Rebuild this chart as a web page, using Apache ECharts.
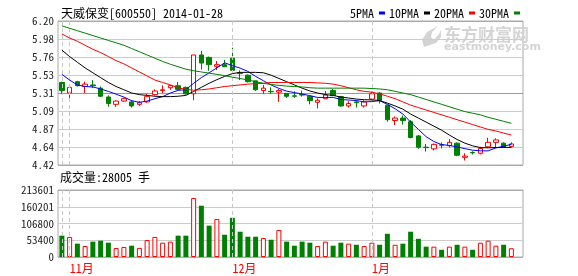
<!DOCTYPE html>
<html>
<head>
<meta charset="utf-8">
<script src="https://cdn.jsdelivr.net/npm/echarts@6/dist/echarts.min.js"></script>
<style>
html,body{margin:0;padding:0;background:#fff;}
#c{width:578px;height:276px;}
</style>
</head>
<body>
<div id="c"></div>
<script>
const stockTitle = '天威保变[600550] 2014-01-28';
const volumeTitle = '成交量';
const volumeUnit = '手';

// 60 category slots (59 trading days shown + one empty slot on the right)
const slots = ['0','1','2','3','4','5','6','7','8','9','10','11','12','13','14','15','16','17','18','19',
  '20','21','22','23','24','25','26','27','28','29','30','31','32','33','34','35','36','37','38','39',
  '40','41','42','43','44','45','46','47','48','49','50','51','52','53','54','55','56','57','58','59'];

// month boundaries (slot index) and their labels
const monthLines = [0, 1, 22, 40];
const monthTickIdx = [1, 22, 40];
const monthNames = ['11月', '12月', '1月'];

const opens  = [5.44,5.31,5.45,5.39,5.41,5.37,5.26,5.17,5.21,5.20, 5.17,5.20,5.29,5.34,5.375,5.40,5.38,5.30,5.78,5.75,
  5.64,5.66,5.74,5.56,5.53,5.46,5.34,5.33,5.32,5.305, 5.275,5.29,5.27,5.195,5.24,5.34,5.265,5.15,5.20,5.15,
  5.235,5.31,5.16,4.97,5.00,4.955,4.78,4.64,4.62,4.67, 4.66,4.69,4.515,4.575,4.565,4.645,4.70,4.69,4.65];
const closes = [5.34,5.38,5.40,5.42,5.40,5.27,5.18,5.21,5.24,5.15, 5.19,5.265,5.335,5.35,5.40,5.355,5.30,5.78,5.68,5.66,
  5.66,5.635,5.59,5.55,5.45,5.35,5.37,5.325,5.34,5.27, 5.27,5.285,5.215,5.22,5.285,5.28,5.15,5.18,5.19,5.20,
  5.30,5.22,4.98,5.00,4.97,4.76,4.64,4.635,4.675,4.665, 4.70,4.54,4.53,4.57,4.625,4.70,4.73,4.64,4.68];
const lows   = [5.30,5.22,5.39,5.31,5.37,5.26,5.14,5.14,5.20,5.13, 5.15,5.19,5.28,5.31,5.35,5.35,5.29,5.22,5.60,5.585,
  5.595,5.63,5.555,5.47,5.44,5.335,5.30,5.30,5.20,5.25, 5.25,5.265,5.17,5.12,5.235,5.27,5.14,5.13,5.13,5.13,
  5.22,5.18,4.955,4.915,4.92,4.75,4.62,4.585,4.60,4.625, 4.635,4.53,4.475,4.55,4.55,4.635,4.635,4.63,4.64];
const highs  = [5.45,5.40,5.46,5.45,5.47,5.39,5.28,5.22,5.25,5.22, 5.21,5.30,5.355,5.405,5.41,5.445,5.39,5.78,5.83,5.76,
  5.705,5.72,5.87,5.59,5.54,5.46,5.41,5.38,5.36,5.31, 5.33,5.34,5.275,5.245,5.335,5.36,5.275,5.21,5.22,5.22,
  5.325,5.32,5.165,5.02,5.03,4.975,4.79,4.68,4.685,4.70, 4.74,4.70,4.565,4.59,4.645,4.757,4.75,4.70,4.70];

const ma5  = [5.54,5.47,5.41,5.39,5.385,5.36,5.33,5.295,5.26,5.215, 5.195,5.21,5.24,5.265,5.31,5.343,5.35,5.43,5.50,5.56,
  5.62,5.683,5.648,5.617,5.577,5.515,5.462,5.409,5.367,5.333, 5.315,5.298,5.277,5.255,5.255,5.256,5.23,5.223,5.217,5.20,
  5.204,5.215,5.17,5.115,5.05,4.95,4.86,4.77,4.71,4.672, 4.662,4.643,4.622,4.603,4.595,4.595,4.631,4.653,4.675];
const ma10 = [5.84,5.76,5.69,5.62,5.56,5.50,5.44,5.39,5.35,5.31, 5.29,5.28,5.27,5.265,5.265,5.27,5.28,5.33,5.38,5.43,
  5.475,5.515,5.55,5.565,5.565,5.565,5.56,5.53,5.49,5.45, 5.41,5.37,5.335,5.31,5.29,5.28,5.26,5.248,5.235,5.227,
  5.225,5.217,5.185,5.15,5.11,5.05,5.00,4.95,4.90,4.85, 4.79,4.735,4.69,4.657,4.635,4.632,4.636,4.637,4.638];
const ma20 = [6.04,5.99,5.95,5.90,5.85,5.81,5.76,5.71,5.67,5.62, 5.57,5.52,5.47,5.44,5.41,5.375,5.355,5.345,5.35,5.36,
  5.375,5.39,5.40,5.41,5.42,5.425,5.43,5.44,5.44,5.44, 5.44,5.44,5.44,5.435,5.43,5.42,5.40,5.375,5.35,5.33,
  5.32,5.30,5.27,5.24,5.20,5.16,5.13,5.10,5.07,5.04, 5.01,4.98,4.95,4.92,4.89,4.86,4.84,4.815,4.79];
const ma30 = [6.14,6.11,6.08,6.05,6.02,5.99,5.96,5.93,5.90,5.86, 5.82,5.78,5.74,5.70,5.665,5.635,5.605,5.585,5.57,5.555,
  5.54,5.525,5.505,5.49,5.47,5.45,5.43,5.415,5.405,5.395, 5.39,5.385,5.375,5.37,5.37,5.37,5.37,5.37,5.37,5.37,
  5.365,5.36,5.35,5.33,5.31,5.29,5.26,5.23,5.20,5.17, 5.14,5.11,5.08,5.06,5.04,5.01,4.985,4.96,4.935];

const volumes = [68000,64000,42500,35000,49000,52000,45600,28700,32000,36000, 29000,54000,64000,45600,49000,68000,68000,188000,163500,100000,
  121000,71000,125000,80600,64700,64700,60500,55000,86000,49000, 36000,49000,45600,35000,49000,36000,45600,42500,39000,35000,
  45600,39000,74000,39000,42500,80600,58000,33000,33000,23000, 33000,39000,33000,23000,45600,52000,36000,39000,28005];

const priceTicks = ['4.42','4.64','4.87','5.09','5.31','5.53','5.76','5.98','6.20'];
const volTicks = ['0','53400','106800','160201','213601'];

const maNames = ['5PMA','10PMA','20PMA','30PMA'];
const maColors = ['#0000ff','#000000','#ff0000','#008000'];

const MONO = '"Noto Sans Mono CJK SC", "Liberation Mono", monospace';
const UP = '#ff0000', DOWN = '#008000';

const priceMin = parseFloat(priceTicks[0]);
const priceMax = parseFloat(priceTicks[priceTicks.length - 1]);
const volMax = parseFloat(volTicks[volTicks.length - 1]);

const kData = opens.map((o, i) => [o, closes[i], lows[i], highs[i]]);
const volData = volumes.map((v, i) => {
  const up = closes[i] >= opens[i];
  return { value: v, itemStyle: up ? { color: '#ffffff', borderColor: UP, borderWidth: 1 } : { color: DOWN, borderColor: DOWN, borderWidth: 0 } };
});

const dashLine = {
  symbol: 'none', silent: true, animation: false,
  label: { show: false },
  lineStyle: { type: [4, 3], color: '#c8c8c8', width: 1 },
  emphasis: { disabled: true },
  data: monthLines.map(m => ({ xAxis: m }))
};

const maSeries = [ma5, ma10, ma20, ma30].map((d, k) => ({
  name: maNames[k], type: 'line', xAxisIndex: 0, yAxisIndex: 0, data: d,
  symbol: 'none', smooth: false, z: 5,
  lineStyle: { width: 1, color: maColors[k] }, itemStyle: { color: maColors[k] }
}));

const chart = echarts.init(document.getElementById('c'));
chart.setOption({
  animation: false,
  backgroundColor: '#ffffff',
  textStyle: { fontFamily: MONO },
  title: [
    { text: stockTitle, left: 61, top: 7, padding: 0,
      textStyle: { fontSize: 12, fontWeight: 'normal', color: '#000', fontFamily: MONO } },
    { text: volumeTitle + ':' + volumes[volumes.length - 1] + ' ' + volumeUnit, left: 60, top: 171, padding: 0,
      textStyle: { fontSize: 12, fontWeight: 'normal', color: '#000', fontFamily: MONO } }
  ],
  legend: {
    data: maNames, right: 58, top: 7, padding: 0, align: 'right', icon: 'rect',
    itemWidth: 6, itemHeight: 3, itemGap: 4, selectedMode: false,
    textStyle: { fontSize: 12, color: '#000', fontFamily: MONO, padding: [0, 0, 0, 0] }
  },
  grid: [
    { left: 58, top: 21, width: 465, height: 144, show: true, borderColor: '#aaaaaa', borderWidth: 1, backgroundColor: 'transparent' },
    { left: 58, top: 190, width: 465, height: 67, show: true, borderColor: '#aaaaaa', borderWidth: 1, backgroundColor: 'transparent' }
  ],
  xAxis: [
    { type: 'category', gridIndex: 0, data: slots, boundaryGap: true,
      axisLine: { show: false }, axisTick: { show: false }, axisLabel: { show: false }, splitLine: { show: false } },
    { type: 'category', gridIndex: 1, data: slots, boundaryGap: true,
      axisLine: { show: false }, axisTick: { show: false }, splitLine: { show: false },
      axisLabel: { show: true, interval: 0, margin: 5, align: 'left', color: '#ff0000', fontSize: 12, fontFamily: MONO,
        formatter: (v, i) => { const k = monthTickIdx.indexOf(i); return k >= 0 ? monthNames[k] : ''; } } }
  ],
  yAxis: [
    { type: 'value', gridIndex: 0, position: 'right', min: priceMin, max: priceMax, show: false, splitLine: { show: false } },
    { type: 'value', gridIndex: 0, position: 'left', min: 0, max: priceTicks.length - 1, interval: 1,
      axisLine: { show: false }, axisTick: { show: false },
      axisLabel: { margin: 4, color: '#222', fontSize: 11, fontFamily: MONO, formatter: v => priceTicks[v] },
      splitLine: { show: true, lineStyle: { width: 1, color: ['#aaaaaa','#cccccc','#cccccc','#cccccc','#999999','#cccccc','#cccccc','#cccccc','#aaaaaa'] } } },
    { type: 'value', gridIndex: 1, position: 'left', min: 0, max: volMax, interval: volMax / (volTicks.length - 1),
      axisLine: { show: false }, axisTick: { show: false },
      axisLabel: { margin: 4, color: '#222', fontSize: 11, fontFamily: MONO, formatter: (v, i) => volTicks[i] },
      splitLine: { show: true, lineStyle: { width: 1, color: ['#aaaaaa','#cccccc','#cccccc','#cccccc','#aaaaaa'] } } }
  ],
  graphic: [
    { type: 'text', left: 444, top: 26, silent: true, z: 0,
      style: { text: '东方财富网', fill: '#d4d4d4', font: 'bold 17px "Noto Sans CJK SC"' } },
    { type: 'text', left: 444, top: 42, silent: true, z: 0,
      style: { text: 'eastmoney.com', fill: '#d4d4d4', font: 'bold 11px "DejaVu Sans"' } },
    { type: 'polygon', silent: true, z: 0,
      shape: { points: [[424,47],[422,40],[427,32],[438,26],[432,32],[431,37],[434,40],[439,34],[441,30],[441,37],[436,43]] },
      style: { fill: '#d4d4d4' } }
  ],
  series: [
    { name: 'K', type: 'candlestick', xAxisIndex: 0, yAxisIndex: 0, data: kData, barWidth: 5, z: 3,
      itemStyle: { color: '#ffffff', color0: DOWN, borderColor: UP, borderColor0: DOWN, borderWidth: 1 },
      markLine: dashLine },
    ...maSeries,
    { name: 'VOL', type: 'bar', xAxisIndex: 1, yAxisIndex: 2, data: volData, barWidth: 5, z: 3,
      markLine: dashLine }
  ]
});
</script>
</body>
</html>
